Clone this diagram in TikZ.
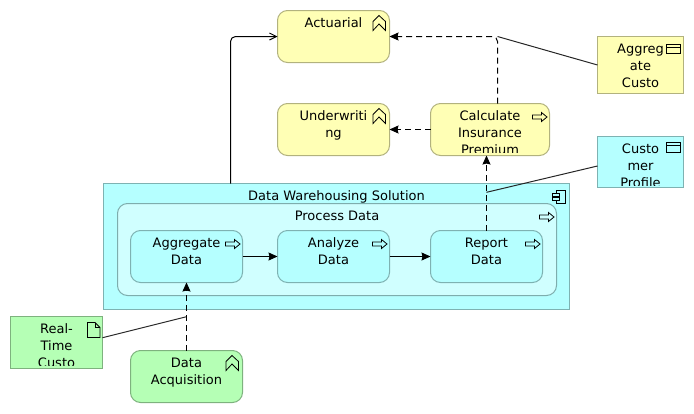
\documentclass[tikz,border=0pt]{standalone}
\usepackage{fontspec}
\setmainfont{DejaVu Sans}
\usetikzlibrary{positioning,arrows.meta}
\definecolor{bizfill}{HTML}{FFFFB5}
\definecolor{bizline}{HTML}{B2B27E}
\definecolor{appfill}{HTML}{B5FFFF}
\definecolor{appline}{HTML}{7EB2B2}
\definecolor{appinner}{HTML}{D0FFFF}
\definecolor{techfill}{HTML}{B5FFB5}
\definecolor{techline}{HTML}{7EB27E}
\tikzset{
	elem/.style={inner sep=0pt,outer sep=0pt,line width=1pt,minimum width=112pt,minimum height=52pt},
	roundelem/.style={elem,rounded corners=10pt},
	bizbox/.style={roundelem,draw=bizline,fill=bizfill},
	appbox/.style={roundelem,draw=appline,fill=appfill},
	techbox/.style={roundelem,draw=techline,fill=techfill},
	txt/.style={inner sep=0pt,outer sep=0pt,align=center,font=\fontsize{13pt}{17pt}\selectfont,text=black},
	assoc/.style={line width=1pt,black!85},
	flow/.style={line width=1pt,-{Stealth[length=9pt,width=8pt,inset=1pt]}},
	trigger/.style={flow,dash pattern=on 6pt off 4pt},
	serve/.style={line width=1pt,-{Straight Barb[length=7pt,width=7pt]},rounded corners=5pt},
	icon/.style={line width=0.8pt,black,line join=miter},
	chevicon/.pic={
		\draw[icon] (-16.5,20) -- (-16.5,11) -- (-10.5,5) -- (-4,11) -- (-4,20) -- (-10.5,13.5) -- cycle;
	},
	arrowicon/.pic={
		\draw[icon] (-17,11.5) -- (-8,11.5) -- (-8,9) -- (-2.5,13.5) -- (-8,18) -- (-8,15.5) -- (-17,15.5) -- cycle;
	},
	windowicon/.pic={
		\draw[icon] (-17,6) rectangle (-3,15.5);
		\draw[icon] (-17,9) -- (-3,9);
	},
	docicon/.pic={
		\draw[icon] (-15,6) -- (-7.5,6) -- (-2.5,11) -- (-2.5,21) -- (-15,21) -- cycle;
		\draw[icon] (-7.5,6) -- (-7.5,11) -- (-2.5,11);
	},
	compicon/.pic={
		\draw[icon] (-13.5,9.5) -- (-13.5,6.5) -- (-4,6.5) -- (-4,20) -- (-13.5,20) -- (-13.5,17) (-13.5,14) -- (-13.5,12.5);
		\draw[icon] (-17,9.5) rectangle (-10,12.5);
		\draw[icon] (-17,14) rectangle (-10,17);
	}
}
\begin{document}
\begin{tikzpicture}[x=1pt,y=-1pt]
	\useasboundingbox (0,0) rectangle (694,413);
	
	% the solution with its nested behaviour
	\node[appbox,rounded corners=0pt,minimum width=466pt,minimum height=126pt] (warehouse) at (336.5,246.5) {};
	\node[appbox,draw=appline!90!gray,fill=appinner,minimum width=439pt,minimum height=92pt] (process) at (337,249.5) {};
	\node[appbox] (aggregate) at (186.5,256.5) {};
	\node[appbox] (analyze) at (333.5,256.5) {};
	\node[appbox] (report) at (486.5,256.5) {};
	
	% yellow elements
	\node[bizbox] (actuarial) at (333.5,36.5) {};
	\node[bizbox] (underwriting) at (333.5,129.5) {};
	\node[bizbox,minimum width=119pt] (premium) at (490,129.5) {};
	\node[elem,draw=bizline,fill=bizfill,minimum width=86pt,minimum height=57pt] (custo) at (640.5,65) {};
	
	% data objects and the acquisition
	\node[elem,draw=appline,fill=appfill,minimum width=86pt,minimum height=51pt] (profile) at (640.5,162) {};
	\node[elem,draw=techline,fill=techfill,minimum width=92pt,minimum height=52pt] (realtime) at (56.5,342.5) {};
	\node[techbox] (acquisition) at (186.5,376.5) {};
	
	% free ends of the connectors
	\coordinate (warehousetop) at (230.5,183.5);
	\coordinate (premiumtop) at (497.5,103.5);
	\coordinate (bendpoint) at (497.5,36.5);
	\coordinate (profileend) at (597.5,166);
	\coordinate (profilejoint) at (486.5,192.3);
	\coordinate (realtimeend) at (102.5,337.7);
	\coordinate (realtimejoint) at (186.5,316.7);
	
	% connectors
	\draw[serve] (warehousetop) |- (actuarial.west);
	\draw[trigger,rounded corners=5pt] (premiumtop) |- (actuarial.east);
	\draw[trigger] (premium.west) -- (underwriting.east);
	\draw[assoc] (custo.west) -- (bendpoint);
	\draw[assoc] (profileend) -- (profilejoint);
	\draw[assoc] (realtimeend) -- (realtimejoint);
	\draw[trigger] (report.north) -- (report.north |- premium.south);
	\draw[trigger] (acquisition.north) -- (aggregate.south);
	\draw[flow] (aggregate.east) -- (analyze.west);
	\draw[flow] (analyze.east) -- (report.west);
	
	% labels
	\node[txt,below=7.5pt of actuarial.north] (actuarialtext) {Actuarial};
	\node[txt,below=7.5pt of underwriting.north] (underwritingtext) {Underwriti\\ng};
	\node[txt,below=7.5pt of warehouse.north] (warehousetext) {Data Warehousing Solution};
	\node[txt,below=7.5pt of process.north] (processtext) {Process Data};
	\node[txt,below=7.5pt of aggregate.north] (aggregatetext) {Aggregate\\Data};
	\node[txt,below=7.5pt of analyze.north] (analyzetext) {Analyze\\Data};
	\node[txt,below=7.5pt of report.north] (reporttext) {Report\\Data};
	\node[txt,below=7.5pt of acquisition.north] (acquisitiontext) {Data\\Acquisition};
	\node[txt,below=7.5pt of custo.north] (custotext) {Aggreg\\ate\\Custo};
	
	% these three do not fit in their box
	\begin{scope}
		\clip (431,104) rectangle (549,152.5);
		\node[txt,below=7.5pt of premium.north] (premiumtext) {Calculate\\Insurance\\Premium};
	\end{scope}
	\begin{scope}
		\clip (598,137) rectangle (683,185);
		\node[txt,below=7.5pt of profile.north] (profiletext) {Custo\\mer\\Profile};
	\end{scope}
	\begin{scope}
		\clip (11,317) rectangle (102,365);
		\node[txt,below=7.5pt of realtime.north] (realtimetext) {Real-\\Time\\Custo};
	\end{scope}
	
	% icons
	\foreach \n in {actuarial,underwriting,acquisition} {
		\pic at (\n.north east) {chevicon};
	}
	\foreach \n in {premium,process,aggregate,analyze,report} {
		\pic at (\n.north east) {arrowicon};
	}
	\pic at ([yshift=-1.5pt]custo.north east) {windowicon};
	\pic at (profile.north east) {windowicon};
	\pic at (realtime.north east) {docicon};
	\pic at (warehouse.north east) {compicon};
\end{tikzpicture}
\end{document}
